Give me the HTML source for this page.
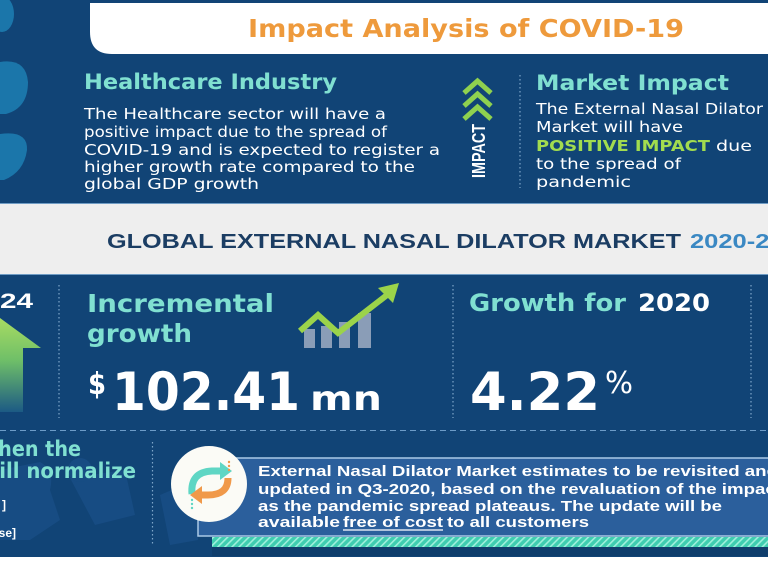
<!DOCTYPE html>
<html>
<head>
<meta charset="utf-8">
<style>
html,body{margin:0;padding:0;background:#ffffff;}
svg{display:block;}
</style>
</head>
<body>
<svg width="768" height="576" viewBox="0 0 768 576" xmlns="http://www.w3.org/2000/svg">
  <defs>
    <linearGradient id="arrowG" x1="0" y1="0" x2="0" y2="1">
      <stop offset="0" stop-color="#a8dc62"/>
      <stop offset="0.45" stop-color="#6fbf68"/>
      <stop offset="1" stop-color="#1c5a84"/>
    </linearGradient>
    <pattern id="hatch" width="5" height="5" patternUnits="userSpaceOnUse" patternTransform="rotate(45)">
      <rect width="5" height="5" fill="#3fcdb0"/>
      <rect width="1.6" height="5" fill="#9ff0dc"/>
    </pattern>
  </defs>

  <!-- page background -->
  <rect x="0" y="0" width="768" height="576" fill="#ffffff"/>
  <!-- main navy panel -->
  <rect x="0" y="0" width="768" height="557" fill="#114476"/>

  <!-- top-left blobs -->
  <ellipse cx="2" cy="14" rx="12" ry="18" fill="#1b76aa"/>
  <path d="M0 62 Q26 58 28 82 Q28 108 6 114 L0 114 Z" fill="#1b76aa"/>
  <path d="M0 134 Q28 130 27 150 Q24 172 4 180 L0 180 Z" fill="#1b76aa"/>

  <!-- top white title box -->
  <path d="M90 3 L768 3 L768 54 L112 54 Q90 54 90 32 Z" fill="#ffffff"/>
  <text x="248" y="37" font-family="DejaVu Sans, Liberation Sans, sans-serif" font-weight="bold" font-size="25" fill="#ee9a3c" textLength="436" lengthAdjust="spacingAndGlyphs">Impact Analysis of COVID-19</text>

  <!-- Healthcare Industry -->
  <text x="84" y="89" font-family="DejaVu Sans, Liberation Sans, sans-serif" font-weight="bold" font-size="21" fill="#80e0d1" textLength="253" lengthAdjust="spacingAndGlyphs">Healthcare Industry</text>
  <g font-family="DejaVu Sans, Liberation Sans, sans-serif" font-size="15.5" fill="#ffffff">
    <text x="84" y="119" textLength="302" lengthAdjust="spacingAndGlyphs">The Healthcare sector will have a</text>
    <text x="84" y="137" textLength="303" lengthAdjust="spacingAndGlyphs">positive impact due to the spread of</text>
    <text x="84" y="155" textLength="356" lengthAdjust="spacingAndGlyphs">COVID-19 and is expected to register a</text>
    <text x="84" y="172" textLength="331" lengthAdjust="spacingAndGlyphs">higher growth rate compared to the</text>
    <text x="84" y="189" textLength="175" lengthAdjust="spacingAndGlyphs">global GDP growth</text>
  </g>

  <!-- IMPACT icon -->
  <g fill="none" stroke="#8fd14f" stroke-width="5" stroke-linejoin="miter">
    <polyline points="464,93 477.5,81 491,93"/>
    <polyline points="464,106 477.5,94 491,106"/>
    <polyline points="464,119 477.5,107 491,119"/>
  </g>
  <text transform="translate(485,178) rotate(-90)" x="0" y="0" font-family="Liberation Sans, sans-serif" font-weight="bold" font-size="18" fill="#ffffff" textLength="54" lengthAdjust="spacingAndGlyphs">IMPACT</text>

  <!-- dotted divider -->
  <line x1="520" y1="75" x2="520" y2="188" stroke="#7ea6c9" stroke-width="1.2" stroke-dasharray="1.5,2.5"/>

  <!-- Market Impact -->
  <text x="536" y="90" font-family="DejaVu Sans, Liberation Sans, sans-serif" font-weight="bold" font-size="21" fill="#80e0d1" textLength="193" lengthAdjust="spacingAndGlyphs">Market Impact</text>
  <g font-family="DejaVu Sans, Liberation Sans, sans-serif" font-size="15.5" fill="#ffffff">
    <text x="536" y="114" textLength="227" lengthAdjust="spacingAndGlyphs">The External Nasal Dilator</text>
    <text x="536" y="132" textLength="147" lengthAdjust="spacingAndGlyphs">Market will have</text>
    <text x="536" y="151" font-weight="bold" fill="#a2dc4f" textLength="174" lengthAdjust="spacingAndGlyphs">POSITIVE IMPACT</text>
    <text x="716" y="151" textLength="36" lengthAdjust="spacingAndGlyphs">due</text>
    <text x="536" y="169" textLength="145" lengthAdjust="spacingAndGlyphs">to the spread of</text>
    <text x="536" y="187" textLength="95" lengthAdjust="spacingAndGlyphs">pandemic</text>
  </g>

  <!-- gray title band -->
  <rect x="0" y="203" width="768" height="72" fill="#eeeeee"/>
  <line x1="0" y1="203.5" x2="768" y2="203.5" stroke="#6f9cc4" stroke-width="1"/>
  <line x1="0" y1="274.5" x2="768" y2="274.5" stroke="#6f9cc4" stroke-width="1"/>
  <text x="107" y="248" font-family="Liberation Sans, sans-serif" font-weight="bold" font-size="20" fill="#1b3d63" textLength="574" lengthAdjust="spacingAndGlyphs">GLOBAL EXTERNAL NASAL DILATOR MARKET</text>
  <text x="690" y="248" font-family="Liberation Sans, sans-serif" font-weight="bold" font-size="20" fill="#3a88c3" textLength="122" lengthAdjust="spacingAndGlyphs">2020-2024</text>

  <!-- middle section -->
  <text x="0" y="308" font-family="Liberation Sans, sans-serif" font-weight="bold" font-size="21" fill="#ffffff" textLength="33" lengthAdjust="spacingAndGlyphs">24</text>
  <polygon points="-42,348 0,318 41,348 23,348 23,412 -20,412 -20,348" fill="url(#arrowG)"/>

  <line x1="59" y1="285" x2="59" y2="418" stroke="#7ea6c9" stroke-width="1.2" stroke-dasharray="1.5,2.5"/>

  <text x="87" y="312" font-family="DejaVu Sans, Liberation Sans, sans-serif" font-weight="bold" font-size="25" fill="#80e0d1" textLength="187" lengthAdjust="spacingAndGlyphs">Incremental</text>
  <text x="87" y="342" font-family="DejaVu Sans, Liberation Sans, sans-serif" font-weight="bold" font-size="25" fill="#80e0d1" textLength="105" lengthAdjust="spacingAndGlyphs">growth</text>

  <!-- chart icon -->
  <g fill="#8a9db7">
    <rect x="304" y="329" width="11" height="19"/>
    <rect x="321" y="326" width="11" height="22"/>
    <rect x="339" y="322" width="11" height="26"/>
    <rect x="358" y="313" width="13" height="35"/>
  </g>
  <polyline points="300,331 318,315 338,333 387,295" fill="none" stroke="#9bd34a" stroke-width="6" stroke-linejoin="miter"/>
  <polygon points="399,283 378,288 393,303" fill="#9bd34a"/>

  <text x="88" y="394" font-family="DejaVu Sans, Liberation Sans, sans-serif" font-weight="bold" font-size="30" fill="#ffffff" textLength="18" lengthAdjust="spacingAndGlyphs">$</text>
  <text x="112" y="410" font-family="DejaVu Sans, Liberation Sans, sans-serif" font-weight="bold" font-size="53" fill="#ffffff" textLength="188" lengthAdjust="spacingAndGlyphs">102.41</text>
  <text x="310" y="410" font-family="DejaVu Sans, Liberation Sans, sans-serif" font-weight="bold" font-size="34" fill="#ffffff" textLength="72" lengthAdjust="spacingAndGlyphs">mn</text>

  <line x1="453" y1="285" x2="453" y2="418" stroke="#7ea6c9" stroke-width="1.2" stroke-dasharray="1.5,2.5"/>

  <text x="469" y="311" font-family="DejaVu Sans, Liberation Sans, sans-serif" font-weight="bold" font-size="24" fill="#80e0d1" textLength="157" lengthAdjust="spacingAndGlyphs">Growth for</text>
  <text x="638" y="311" font-family="DejaVu Sans, Liberation Sans, sans-serif" font-weight="bold" font-size="24" fill="#ffffff" textLength="72" lengthAdjust="spacingAndGlyphs">2020</text>

  <text x="470" y="410" font-family="DejaVu Sans, Liberation Sans, sans-serif" font-weight="bold" font-size="53" fill="#ffffff" textLength="130" lengthAdjust="spacingAndGlyphs">4.22</text>
  <text x="605" y="393" font-family="DejaVu Sans, Liberation Sans, sans-serif" font-size="30" fill="#ffffff" textLength="28" lengthAdjust="spacingAndGlyphs">%</text>

  <line x1="751" y1="285" x2="751" y2="418" stroke="#7ea6c9" stroke-width="1.2" stroke-dasharray="1.5,2.5"/>

  <!-- dashed separator -->
  <line x1="0" y1="430.5" x2="768" y2="430.5" stroke="#6d9cc8" stroke-width="1" stroke-dasharray="6,4"/>

  <!-- bottom decorative shapes -->
  <g fill="#174c83">
    <path d="M0 470 L40 462 Q55 470 50 490 L60 520 L30 540 L0 540 Z"/>
    <path d="M70 478 L125 470 L135 515 L95 525 Z"/>
    <circle cx="80" cy="470" r="12"/>
    <path d="M160 495 L195 480 L198 540 L170 545 Z"/>
    <path d="M280 540 L360 538 L370 556 L290 556 Z"/>
  </g>

  <!-- bottom-left text -->
  <text x="81" y="456" text-anchor="end" font-family="DejaVu Sans, Liberation Sans, sans-serif" font-weight="bold" font-size="21" fill="#80e0d1" textLength="104" lengthAdjust="spacingAndGlyphs">When the</text>
  <text x="136" y="478" text-anchor="end" font-family="DejaVu Sans, Liberation Sans, sans-serif" font-weight="bold" font-size="21" fill="#80e0d1" textLength="155" lengthAdjust="spacingAndGlyphs">will normalize</text>
  <text x="6" y="509" text-anchor="end" font-family="Liberation Sans, sans-serif" font-weight="bold" font-size="12" fill="#ffffff">]</text>
  <text x="16" y="537" text-anchor="end" font-family="Liberation Sans, sans-serif" font-weight="bold" font-size="12" fill="#ffffff">se]</text>

  <line x1="152.5" y1="442" x2="152.5" y2="545" stroke="#7ea6c9" stroke-width="1.2" stroke-dasharray="1.5,2.5"/>

  <!-- info box -->
  <rect x="198" y="458" width="580" height="78" fill="#2b5f9c" stroke="#a9c9e6" stroke-width="1.5"/>
  <rect x="212" y="537" width="560" height="10" fill="url(#hatch)"/>
  <rect x="212" y="547" width="560" height="9" fill="#0f3e6c"/>

  <g font-family="Liberation Sans, sans-serif" font-weight="bold" font-size="15" fill="#ffffff">
    <text x="258" y="476" textLength="520" lengthAdjust="spacingAndGlyphs">External Nasal Dilator Market estimates to be revisited and</text>
    <text x="258" y="494" textLength="524" lengthAdjust="spacingAndGlyphs">updated in Q3-2020, based on the revaluation of the impact</text>
    <text x="258" y="511" textLength="464" lengthAdjust="spacingAndGlyphs">as the pandemic spread plateaus. The update will be</text>
    <text x="258" y="527" textLength="82" lengthAdjust="spacingAndGlyphs">available</text>
    <text x="343" y="527" textLength="100" lengthAdjust="spacingAndGlyphs">free of cost</text>
    <text x="447" y="527" textLength="142" lengthAdjust="spacingAndGlyphs">to all customers</text>
  </g>
  <line x1="343" y1="530" x2="443" y2="530" stroke="#ffffff" stroke-width="1.3"/>

  <!-- circle icon -->
  <circle cx="209" cy="484" r="38" fill="#fbfbf6"/>
  <path d="M192 494 Q190 472 212 471 L222 471" fill="none" stroke="#5fd6c4" stroke-width="7"/>
  <polygon points="220,462 232,471 220,480" fill="#5fd6c4"/>
  <path d="M228 478 Q228 495 208 495 L200 495" fill="none" stroke="#f0994a" stroke-width="7"/>
  <polygon points="202,486 190,495 202,504" fill="#f0994a"/>
  <g fill="#5fd6c4">
    <circle cx="192" cy="500" r="1.2"/><circle cx="192" cy="504" r="1.2"/><circle cx="192" cy="508" r="1.2"/>
  </g>
  <g fill="#f0994a">
    <circle cx="229" cy="462" r="1.2"/><circle cx="229" cy="466" r="1.2"/><circle cx="229" cy="470" r="1.2"/>
  </g>
</svg>
</body>
</html>
